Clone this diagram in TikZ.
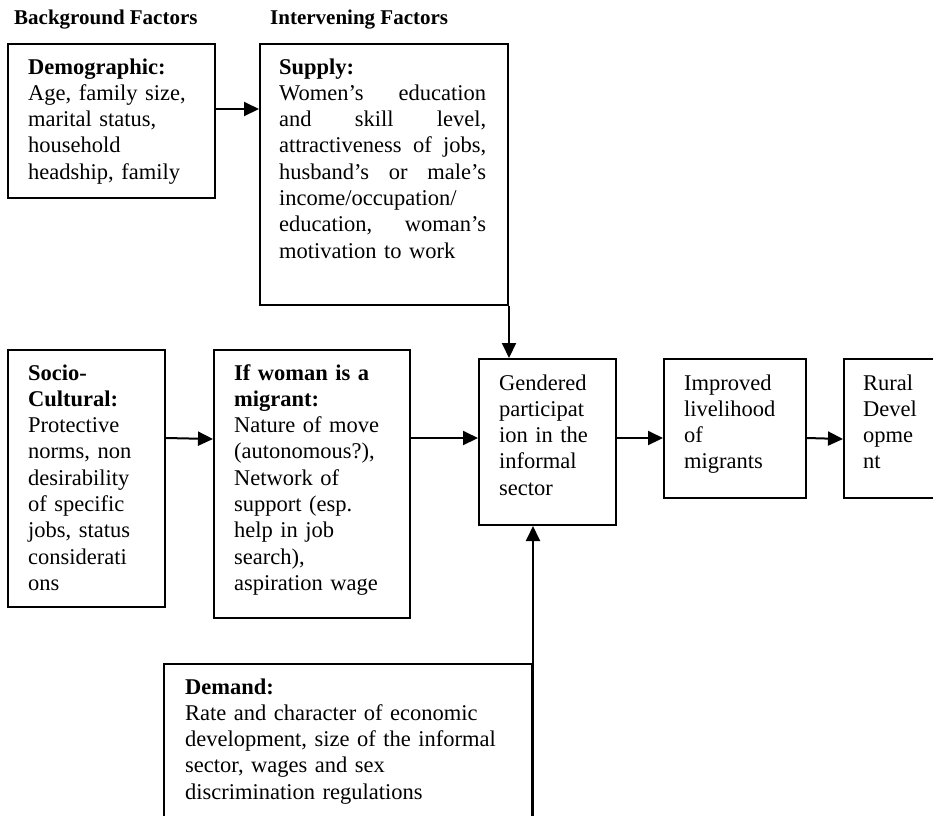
\documentclass[tikz,border=0pt]{standalone}
\usepackage{fontspec}
\setmainfont{Liberation Serif}
\usetikzlibrary{arrows.meta,calc}
\newcommand{\bodyfont}{\fontsize{22.5}{26.3}\selectfont}
\newcommand{\headfont}{\bfseries\fontsize{21}{24}\selectfont}
\tikzset{
  box/.style={draw, line width=2pt, rectangle, inner sep=0pt, anchor=north west},
  txt/.style={anchor=base west, inner sep=0pt, font=\bodyfont, align=left},
  head/.style={anchor=base west, inner sep=0pt, font=\headfont},
  arr/.style={line width=2pt, -{Triangle[length=15pt,width=14pt]}},
}
\begin{document}
\begin{tikzpicture}[x=1pt,y=-1pt]
\useasboundingbox (0,0) rectangle (933,815);
\clip (0,0) rectangle (933,815);
% headings
\node[head] (hbg) at (14,24) {Background Factors};
\node[head] (hiv) at (270,24) {Intervening Factors};
% boxes
\node[box, minimum width=207pt, minimum height=154pt] (demo) at (7,43) {};
\node[box, minimum width=248pt, minimum height=261pt] (supply) at (259,43) {};
\node[box, minimum width=157pt, minimum height=257pt] (socio) at (7,349) {};
\node[box, minimum width=196pt, minimum height=268pt] (mig) at (213,349) {};
\node[box, minimum width=137pt, minimum height=166pt] (gend) at (478,358) {};
\node[box, minimum width=142pt, minimum height=139pt] (imp) at (663,358) {};
\node[box, minimum width=107pt, minimum height=139pt] (rural) at (843,358) {};
\node[box, minimum width=368pt, minimum height=167pt] (demand) at (163,663) {};
% texts
\node[txt, text width=185pt] (tdemo) at (28,74) {\textbf{Demographic:}\\
Age, family size,\\ marital status,\\ household\\ headship, family};
\node[txt, text width=207pt] (tsupply) at (279,74) {\textbf{Supply:}\\
Women’s \hfill education\\
and \hfill skill \hfill level,\\
attractiveness \hfill of \hfill jobs,\\
husband’s \hfill or \hfill male’s\\
income/occupation/\\
education, \hfill woman’s\\
motivation to work};
\node[txt, text width=135pt] (tsocio) at (28,380) {\textbf{Socio-}\\ \textbf{Cultural:}\\
Protective\\ norms, non\\ desirability\\ of specific\\ jobs, status\\ considerati\\ ons};
\node[txt, text width=172pt] (tmig) at (234,380) {\textbf{If woman is a}\\ \textbf{migrant:}\\
Nature of move\\ (autonomous?),\\ Network of\\ support (esp.\\ help in job\\ search),\\ aspiration wage};
\node[txt, text width=112pt] (tgend) at (499,390) {Gendered\\ participat\\ ion in the\\ informal\\ sector};
\node[txt, text width=118pt] (timp) at (684,390) {Improved\\ livelihood\\ of\\ migrants};
\node[txt, text width=70pt] (trural) at (863,390) {Rural\\ Devel\\ opme\\ nt};
\node[txt, text width=340pt] (tdemand) at (185,694) {\textbf{Demand:}\\
Rate and character of economic\\ development, size of the informal\\ sector, wages and sex\\ discrimination regulations};
% connectors
\draw[arr] ([yshift=12pt]demo.east) -- ([yshift=12pt]demo.east -| supply.west);
\draw[arr] (supply.south east) -- (supply.south east |- gend.north);
\draw[arr] ([yshift=40.5pt]socio.east) -- ([yshift=45pt]mig.west);
\coordinate (m1) at ([yshift=46pt]mig.east);
\draw[arr] (m1) -- (m1 -| gend.west);
\coordinate (g1) at ([yshift=4pt]gend.east);
\draw[arr] (g1) -- (g1 -| imp.west);
\draw[arr] ([yshift=-9.5pt]imp.east) -- ([yshift=-10.5pt]rural.west);
\draw[arr] (demand.south east) -- (demand.south east |- gend.south);
\end{tikzpicture}
\end{document}
